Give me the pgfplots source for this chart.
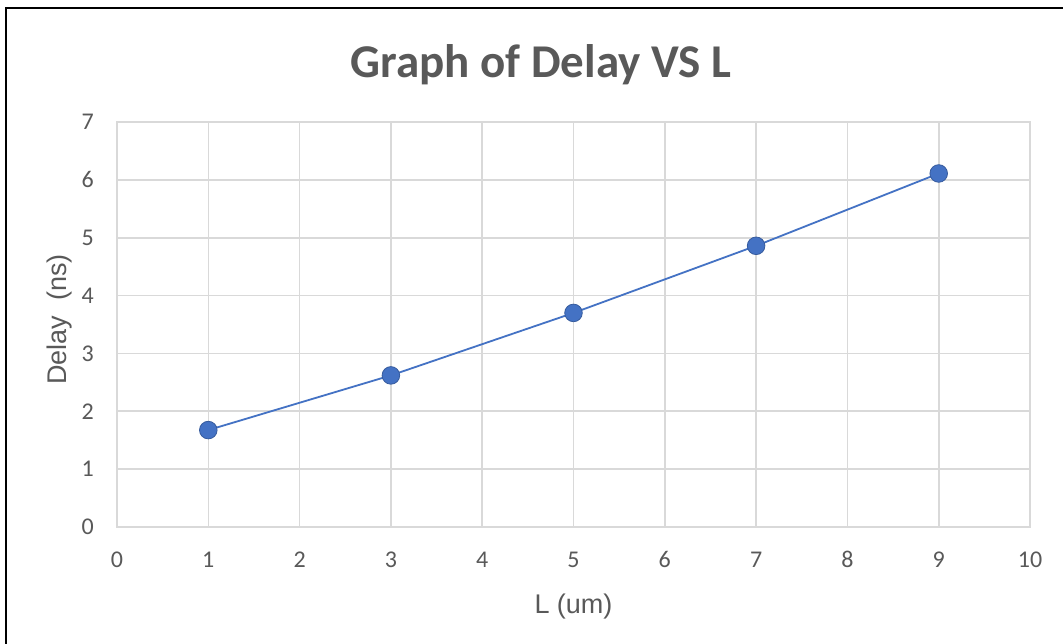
\documentclass[border=0pt]{standalone}
\usepackage{fontspec}
\setmainfont{Carlito}
\newfontfamily\arialfont{Liberation Sans}
\usepackage{pgfplots}
\pgfplotsset{compat=1.18}
\definecolor{txt}{HTML}{595959}
\definecolor{gridc}{HTML}{D9D9D9}
\definecolor{ser}{HTML}{4472C4}
\begin{document}
\begin{tikzpicture}[x=1pt,y=1pt]
\useasboundingbox (0,0) rectangle (1063,644);
\fill[white] (0,0) rectangle (1063,644);
\draw[black, line width=2.2pt] (6,0) -- (6,636) -- (1063,636);
\begin{axis}[
  at={(117pt,117pt)}, anchor=south west,
  width=913pt, height=405pt, scale only axis,
  xmin=0, xmax=10, ymin=0, ymax=7,
  xtick={0,1,...,10}, ytick={0,1,...,7},
  grid=major,
  major grid style={draw=gridc, line width=1.6pt},
  axis line style={draw=gridc, line width=1.6pt},
  major tick length=0pt,
  tick label style={font=\fontsize{24}{28}\selectfont, text=txt, inner sep=0pt},
  /pgf/number format/assume math mode=true,
  xticklabel style={anchor=base, yshift=-41pt},
  yticklabel style={anchor=east, xshift=-23pt},
  clip=false,
]
\addplot[color=ser, line width=1.8pt, mark=*, mark size=8.8pt,
  mark options={fill=ser, draw=ser!80!black, line width=0.8pt}]
  coordinates {(1,1.675) (3,2.62) (5,3.70) (7,4.86) (9,6.11)};
\end{axis}
\node[anchor=base, text=txt, font=\fontsize{47}{54}\selectfont\bfseries] at (541,566) {Graph of Delay VS L};
\node[anchor=base, text=txt, font=\arialfont\fontsize{27}{32}\selectfont] at (573.5,30) {L (um)};
\node[anchor=base, rotate=90, text=txt, font=\arialfont\fontsize{27}{32}\selectfont] at (66,324.5) {Delay\ \ (ns)};
\end{tikzpicture}
\end{document}
